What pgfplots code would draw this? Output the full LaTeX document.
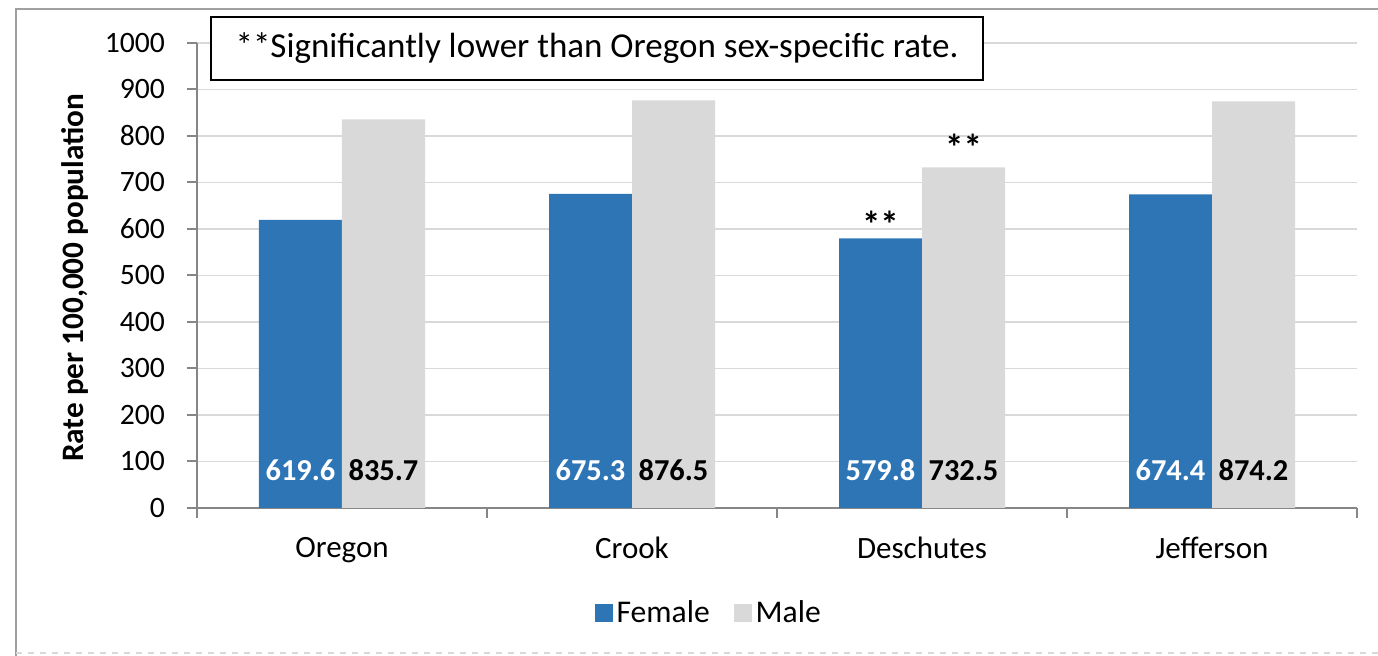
\documentclass[border=0pt]{standalone}
\usepackage{pgfplots}
\pgfplotsset{compat=1.18}
\usepackage{fontspec}
\setmainfont{Carlito}

\definecolor{femblue}{RGB}{46,117,182}
\definecolor{malegray}{RGB}{217,217,217}
\definecolor{gridgray}{RGB}{217,217,217}
\definecolor{axisgray}{RGB}{134,134,134}
\definecolor{framegray}{RGB}{160,160,160}

\begin{document}
\begin{tikzpicture}
% page = 1378 x 656 px at 0.5pt per px
\path[use as bounding box] (0pt,0pt) rectangle (689pt,-328pt);
\draw[framegray, line width=1pt] (8pt,-328pt) -- (8pt,-4.5pt) -- (689pt,-4.5pt);
\draw[gridgray, line width=0.75pt, dash pattern=on 3pt off 3pt] (8pt,-326.5pt) -- (689pt,-326.5pt);

\begin{axis}[
  at={(98.5pt,-254pt)}, anchor=south west,
  scale only axis,
  width=580pt, height=232.5pt,
  ybar=0pt, bar width=41.5pt,
  xmin=-0.5, xmax=3.5,
  ymin=0, ymax=1000,
  ytick={0,100,...,1000},
  xtick={0,1,2,3},
  xticklabels={Oregon, Crook, Deschutes, Jefferson},
  minor xtick={-0.5,0.5,1.5,2.5,3.5},
  major x tick style={draw=none},
  tick align=outside,
  major tick length=5pt, minor tick length=5pt,
  tick style={axisgray, line width=1pt},
  axis x line*=bottom, axis y line*=left,
  axis line style={axisgray, line width=1pt},
  ymajorgrids,
  grid style={gridgray, line width=0.75pt},
  /pgf/number format/assume math mode=true,
  yticklabel style={font=\fontsize{14.8}{16}\selectfont, xshift=-7.5pt,
    /pgf/number format/fixed, /pgf/number format/precision=0,
    /pgf/number format/set thousands separator={}},
  xticklabel style={font=\fontsize{15.5}{16}\selectfont, yshift=-6pt},
  ylabel={Rate per 100,000 population},
  ylabel style={font=\bfseries\fontsize{15.6}{17}\selectfont,
    at={(axis description cs:-0.105,0.495)}, anchor=center},
  legend style={draw=none, at={(0.442,-0.226)}, anchor=center,
    legend columns=2, font=\fontsize{15.8}{17}\selectfont,
    /tikz/every even column/.append style={column sep=10pt},
    /tikz/every odd column/.append style={inner xsep=1pt}},
  legend image code/.code={\fill[#1] (0pt,-4.5pt) rectangle (9pt,4.5pt);},
  visualization depends on={y \as \rawy},
  nodes near coords,
  every node near coord/.append style={anchor=center,
    /pgf/number format/fixed, /pgf/number format/fixed zerofill,
    /pgf/number format/precision=1,
    font=\bfseries\fontsize{15.2}{16}\selectfont,
    shift={(axis direction cs:0,81-\rawy)}},
]
\addplot[fill=femblue, draw=none,
  every node near coord/.append style={text=white}]
  coordinates {(0,619.6) (1,675.3) (2,579.8) (3,674.4)};
\addplot[fill=malegray, draw=none,
  every node near coord/.append style={text=black}]
  coordinates {(0,835.7) (1,876.5) (2,732.5) (3,874.2)};
\legend{Female, Male}

\node[anchor=base, font=\bfseries\fontsize{18.5}{20}\selectfont, xshift=-20.75pt, yshift=0.3pt]
  at (axis cs:2,579.8) {**};
\node[anchor=base, font=\bfseries\fontsize{18.5}{20}\selectfont, xshift=20.75pt, yshift=3.6pt]
  at (axis cs:2,732.5) {**};
\end{axis}

\node[draw=black, line width=1pt, fill=white, anchor=north west,
  minimum width=386pt, minimum height=31.5pt,
  font=\fontsize{17.5}{19}\selectfont]
  at (105pt,-8pt) {**Significantly lower than Oregon sex-specific rate.};
\end{tikzpicture}
\end{document}
